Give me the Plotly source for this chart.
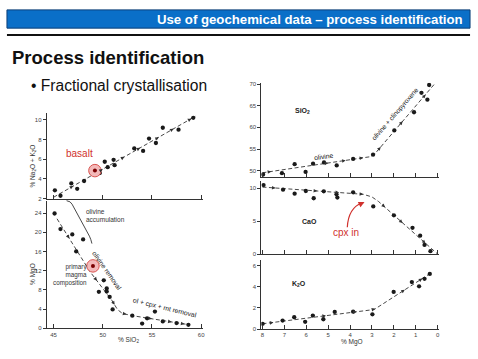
import numpy as np
import plotly.graph_objects as go

W, H = 478, 359

# ---------------- data ----------------
# Top-left: Na2O + K2O vs SiO2
alk_sio2 = [45.13, 45.7, 46.8, 47.4, 48.1, 49.7, 50.2, 50.5, 51.1, 51.2, 53.2, 54.1, 54.7, 55.4, 56.1, 57.7, 59.2]
alk_val = [2.85, 2.3, 3.55, 3.0, 3.8, 4.6, 5.75, 5.2, 5.95, 5.4, 7.1, 6.85, 8.1, 7.65, 9.2, 9.0, 10.2]
alk_trend_sio2 = [45.0, 59.4]
alk_trend_val = [2.15, 10.35]
alk_arrow_sio2 = [47.0, 50.0, 52.2, 53.8, 55.7, 57.2, 59.0]
basalt_sio2 = [49.2]
basalt_alk = [4.85]

# Bottom-left: MgO vs SiO2
mg_sio2 = [45.1, 45.7, 46.9, 48.0, 47.3, 50.1, 49.6, 50.4, 50.4, 50.7, 51.0, 53.0, 54.0, 54.5, 55.3, 56.1, 57.5, 58.7]
mg_val = [23.9, 20.65, 19.55, 18.5, 16.0, 10.0, 7.6, 8.3, 7.65, 6.55, 3.95, 2.65, 1.0, 2.1, 3.5, 1.45, 1.1, 0.75]
mg_trend_sio2 = [45.35, 48.7, 50.9, 51.5, 52.0, 53.0, 58.8]
mg_trend_val = [22.8, 11.8, 5.9, 3.9, 3.1, 2.65, 0.75]
mg_arrow_sio2 = [46.6, 49.4, 51.2, 52.4, 55.0, 57.0, 58.3]
primary_sio2 = [49.0]
primary_mgo = [13.0]

# Right: oxides vs MgO
mgo_si = [7.97, 7.11, 6.53, 6.03, 5.69, 5.19, 4.61, 3.86, 2.95, 1.98, 1.08, 0.74, 0.47, 0.39]
sio2_r = [49.1, 49.4, 51.5, 49.7, 51.6, 51.9, 51.2, 52.7, 53.7, 59.3, 63.5, 68.0, 66.4, 69.8]
si_trend_mgo = [8.0, 3.1, 2.9, 0.1]
si_trend_val = [49.5, 53.2, 53.7, 70.3]
si_arrow_mgo = [7.6, 5.0, 4.2, 3.4, 2.6, 1.6, 0.55]

mgo_ca = [7.95, 7.06, 6.53, 6.02, 5.66, 5.2, 4.62, 4.58, 3.86, 2.94, 2.0, 1.15, 0.8, 0.6, 0.33]
cao_r = [10.5, 9.8, 9.2, 9.6, 8.5, 9.55, 9.1, 8.6, 9.4, 7.25, 5.9, 4.0, 2.8, 1.4, 0.45]
ca_trend_mgo = [8.0, 3.4, 3.0, 2.7, 0.0]
ca_trend_val = [10.2, 9.1, 8.7, 8.0, 0.0]
ca_arrow_mgo = [7.4, 5.5, 4.5, 3.4, 2.4, 1.6, 0.55]

mgo_k = [7.99, 7.08, 6.55, 6.05, 5.7, 5.22, 4.7, 3.86, 2.98, 2.01, 1.18, 0.85, 0.6, 0.36]
k2o_r = [0.5, 0.8, 1.12, 0.69, 1.28, 0.93, 1.62, 1.65, 1.4, 3.51, 4.45, 4.04, 4.75, 5.22]
k_trend_mgo = [8.0, 2.9, 0.35]
k_trend_val = [0.5, 1.85, 5.25]
k_arrow_mgo = [7.5, 5.1, 3.7, 2.85, 1.5, 0.7]

left_xticks = [45, 50, 55, 60]
alk_yticks = [2, 4, 6, 8, 10]
mg_yticks = [0, 4, 8, 12, 16, 20, 24]
right_xticks = [8, 7, 6, 5, 4, 3, 2, 1, 0]
si_yticks = [50, 55, 60, 65, 70]
ca_yticks = [0, 5, 10]
k_yticks = [0, 2, 4, 6]

# ---------------- helpers ----------------
def px(x):
    return x / W

def py(y):
    return 1 - y / H

FONT = "Arial, Liberation Sans, sans-serif"
INK = "#1a1a1a"
DASH = "4px,2.5px"

fig = go.Figure()

def scatter(xs, ys, n):
    fig.add_trace(go.Scatter(x=xs, y=ys, mode="markers", xaxis="x" + n, yaxis="y" + n,
                             marker=dict(size=4.3, color=INK), showlegend=False, hoverinfo="skip"))

def trend(xs, ys, n):
    fig.add_trace(go.Scatter(x=xs, y=ys, mode="lines", xaxis="x" + n, yaxis="y" + n,
                             line=dict(color="#333", width=0.9, dash=DASH), showlegend=False,
                             hoverinfo="skip"))

annotations = []
shapes = []

def arrows(heads, lx, ly, n, dx):
    lx = np.asarray(lx, float)
    ly = np.asarray(ly, float)
    order = np.argsort(lx)
    for h in heads:
        hy = float(np.interp(h, lx[order], ly[order]))
        tx = h - dx
        ty = float(np.interp(tx, lx[order], ly[order]))
        annotations.append(dict(x=h, y=hy, ax=tx, ay=ty, xref="x" + n, yref="y" + n,
                                axref="x" + n, ayref="y" + n, showarrow=True, text="",
                                arrowhead=2, arrowsize=0.9, arrowwidth=0.8, arrowcolor="#333"))

# top-left
trend(alk_trend_sio2, alk_trend_val, "1")
scatter(alk_sio2, alk_val, "1")
arrows(alk_arrow_sio2, alk_trend_sio2, alk_trend_val, "1", 0.35)
fig.add_trace(go.Scatter(x=basalt_sio2, y=basalt_alk, mode="markers", xaxis="x1", yaxis="y1",
                         marker=dict(size=12.5, color="#f3b9b9", line=dict(color="#d9534f", width=1)),
                         showlegend=False, hoverinfo="skip"))
fig.add_trace(go.Scatter(x=basalt_sio2, y=basalt_alk, mode="markers", xaxis="x1", yaxis="y1",
                         marker=dict(size=4, color="#7a0000"), showlegend=False, hoverinfo="skip"))

# bottom-left
trend(mg_trend_sio2, mg_trend_val, "2")
scatter(mg_sio2, mg_val, "2")
arrows(mg_arrow_sio2, mg_trend_sio2, mg_trend_val, "2", 0.3)
fig.add_trace(go.Scatter(x=primary_sio2, y=primary_mgo, mode="markers", xaxis="x2", yaxis="y2",
                         marker=dict(size=12.5, color="#f3b9b9", line=dict(color="#d9534f", width=1)),
                         showlegend=False, hoverinfo="skip"))
fig.add_trace(go.Scatter(x=primary_sio2, y=primary_mgo, mode="markers", xaxis="x2", yaxis="y2",
                         marker=dict(size=4, color="#7a0000"), showlegend=False, hoverinfo="skip"))

# right panels
trend(si_trend_mgo, si_trend_val, "3")
scatter(mgo_si, sio2_r, "3")
arrows(si_arrow_mgo, si_trend_mgo, si_trend_val, "3", -0.2)
trend(ca_trend_mgo, ca_trend_val, "4")
scatter(mgo_ca, cao_r, "4")
arrows(ca_arrow_mgo, ca_trend_mgo, ca_trend_val, "4", -0.2)
trend(k_trend_mgo, k_trend_val, "5")
scatter(mgo_k, k2o_r, "5")
arrows(k_arrow_mgo, k_trend_mgo, k_trend_val, "5", -0.2)

# ---------------- axes ----------------
tickfont = dict(family=FONT, size=6, color="#444")

def xax(domain, rng, ticks, anchor, labels):
    return dict(domain=domain, range=rng, anchor=anchor, tickvals=ticks, showticklabels=labels,
                ticks="inside", ticklen=4, tickwidth=0.8, tickcolor="#333", showline=True,
                linecolor="#333", linewidth=1, showgrid=False, zeroline=False, tickfont=tickfont)

def yax(domain, rng, ticks, anchor):
    return dict(domain=domain, range=rng, anchor=anchor, tickvals=ticks, ticks="outside",
                ticklen=3, tickwidth=0.8, tickcolor="#333", showline=True, linecolor="#333",
                linewidth=1, showgrid=False, zeroline=False, tickfont=tickfont)

lx_dom = [px(46), px(203.4)]
rx_dom = [px(262), px(441.2)]

layout = dict(
    width=W, height=H, margin=dict(l=0, r=0, t=0, b=0),
    paper_bgcolor="white", plot_bgcolor="rgba(0,0,0,0)", showlegend=False,
    xaxis1=xax(lx_dom, [44.3, 60.2], left_xticks, "y1", False),
    yaxis1=yax([py(199.5), py(113)], [2, 10.65], alk_yticks, "x1"),
    xaxis2=xax(lx_dom, [44.3, 60.2], left_xticks, "y2", True),
    yaxis2=yax([py(331), py(201.8)], [0, 26.5], mg_yticks, "x2"),
    xaxis3=xax(rx_dom, [8.05, -0.08], right_xticks, "y3", False),
    yaxis3=yax([py(177.8), py(82)], [48.45, 70.3], si_yticks, "x3"),
    xaxis4=xax(rx_dom, [8.05, -0.08], right_xticks, "y4", False),
    yaxis4=yax([py(256), py(182)], [-0.05, 11.05], ca_yticks, "x4"),
    xaxis5=xax(rx_dom, [8.05, -0.08], right_xticks, "y5", True),
    yaxis5=yax([py(331.7), py(262)], [0, 6.5], k_yticks, "x5"),
)

# ---------------- slide decorations ----------------
shapes.append(dict(type="rect", xref="paper", yref="paper", x0=px(6), x1=px(472), y0=py(26.5), y1=py(8),
                   fillcolor="#0a6fc8", line=dict(color="#0b3f78", width=1)))
shapes.append(dict(type="line", xref="paper", yref="paper", x0=px(6), x1=px(472), y0=py(33.5), y1=py(33.5),
                   line=dict(color="#111", width=2)))

def text(x, y, s, size, color=INK, anchor="center", angle=0, bold=False, align="center", family=FONT):
    if bold:
        s = "<b>" + s + "</b>"
    annotations.append(dict(x=px(x), y=py(y), xref="paper", yref="paper", text=s, showarrow=False,
                            xanchor=anchor, yanchor="middle", textangle=angle, align=align,
                            font=dict(family=family, size=size, color=color)))

text(467, 17.5, "Use of geochemical data \u2013 process identification", 13.2, color="white",
     anchor="right", bold=True)
text(9.5, 56.5, "Process identification", 18.5, color="#111", anchor="left", bold=True)
text(28, 84.5, "\u2022 Fractional crystallisation", 15.6, color="#111", anchor="left")

# axis titles
text(32, 166, "% Na<sub>2</sub>O + K<sub>2</sub>O", 6.5, color="#333", angle=-90)
text(32, 276, "% MgO", 6.5, color="#333", angle=-90)
text(128, 343, "% SiO<sub>2</sub>", 6.5, color="#333")
text(353, 345, "% MgO", 6.5, color="#333")

# in-plot labels
text(79, 154, "basalt", 10, color="#d0312d")
text(84, 217, "olivine<br>accumulation", 6.5, color="#333", anchor="left", align="left")
text(88.5, 276.5, "primary<br>magma<br>composition", 6.3, color="#333", anchor="right", align="right")
text(106.5, 272.5, "olivine removal", 6.8, color="#222", angle=55)
text(164.5, 310.5, "ol + cpx + mt removal", 6.8, color="#222", angle=13.5)
text(303, 110.5, "SiO<sub>2</sub>", 7, color="#222", bold=True)
text(324.5, 157, "olivine", 6.8, color="#222", angle=-8)
text(397, 114, "olivine + clinopyroxene", 6.6, color="#222", angle=-49)
text(310, 222.7, "CaO", 7, color="#222", bold=True)
text(347, 233.5, "cpx in", 10, color="#d0312d")
text(300, 285.5, "K<sub>2</sub>O", 7, color="#222", bold=True)

# olivine accumulation bracket
def P(x, y):
    return f"{px(x):.5f},{py(y):.5f}"

shapes.append(dict(type="path", xref="paper", yref="paper",
                   path=f"M {P(66, 201.5)} Q {P(70, 202)} {P(71.5, 205)} L {P(89, 237.5)} Q {P(90.5, 240.5)} {P(91.5, 245)}",
                   line=dict(color="#333", width=0.9)))
# red curved arrow for cpx in
shapes.append(dict(type="path", xref="paper", yref="paper",
                   path=f"M {P(348.5, 228.5)} Q {P(349.5, 209)} {P(363, 203.8)}",
                   line=dict(color="#d0312d", width=1.2)))
annotations.append(dict(x=px(365.8), y=py(202.8), xref="paper", yref="paper", ax=-5, ay=2.5,
                        showarrow=True, text="", arrowhead=2, arrowsize=1, arrowwidth=1.2,
                        arrowcolor="#d0312d"))

layout["shapes"] = shapes
layout["annotations"] = annotations
fig.update_layout(**layout)
fig.write_html("out.html", config={"displayModeBar": False},
               post_script="document.body.style.margin='0';")
